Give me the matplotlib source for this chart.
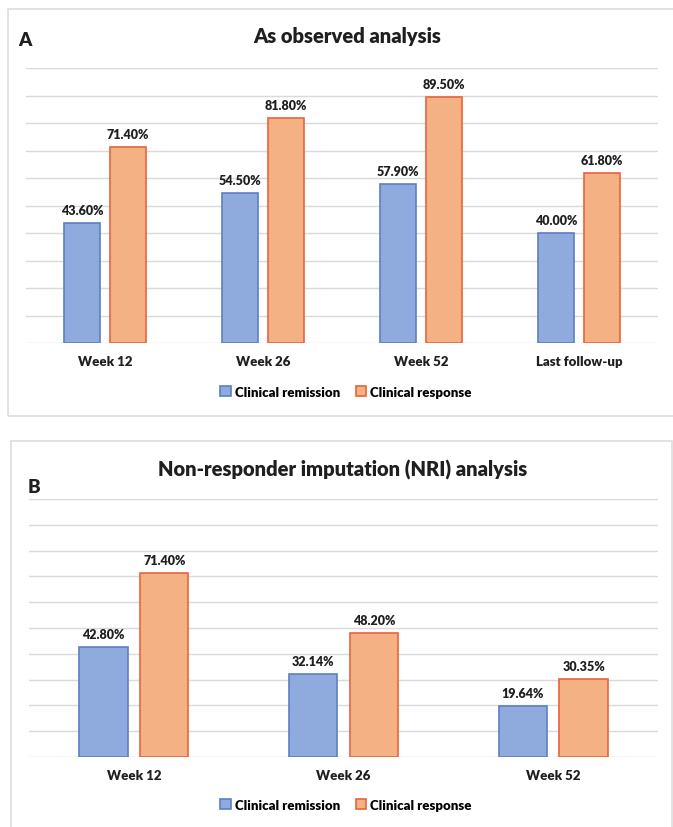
import matplotlib.pyplot as plt
from matplotlib.patches import Rectangle

plt.rcParams['font.family'] = ['Lato', 'DejaVu Sans']

# Panel A - as observed
weeks_a = ["Week 12", "Week 26", "Week 52", "Last follow-up"]
remission_a = [43.60, 54.50, 57.90, 40.00]
response_a = [71.40, 81.80, 89.50, 61.80]

# Panel B - NRI
weeks_b = ["Week 12", "Week 26", "Week 52"]
remission_b = [42.80, 32.14, 19.64]
response_b = [71.40, 48.20, 30.35]

blue_fill = "#8FAADC"
blue_edge = "#5B80C2"
orange_fill = "#F4B183"
orange_edge = "#E8643E"
grid_col = "#D9D9D9"
txt = "#1f1f1f"
wt = "heavy"

W, H = 673, 828
fig = plt.figure(figsize=(W / 100, H / 100), dpi=100)


def px_box(x0, y0, x1, y1):
    """pixel box (top-left origin) -> figure fraction rect"""
    return [x0 / W, 1 - y1 / H, (x1 - x0) / W, (y1 - y0) / H]


def draw_panel(rect, cats, rem, resp, fmt):
    ax = fig.add_axes(rect)
    x = list(range(len(cats)))
    off = 0.145
    w = 0.23
    b1 = ax.bar([i - off for i in x], rem, w, color=blue_fill, edgecolor=blue_edge,
                linewidth=1.2, label="Clinical remission", zorder=3)
    b2 = ax.bar([i + off for i in x], resp, w, color=orange_fill, edgecolor=orange_edge,
                linewidth=1.2, label="Clinical response", zorder=3)
    for bars, vals in ((b1, rem), (b2, resp)):
        for bar, v in zip(bars, vals):
            ax.annotate(fmt % v, (bar.get_x() + bar.get_width() / 2, v),
                        xytext=(0, 5), textcoords="offset points",
                        ha="center", va="bottom", fontsize=9, fontweight=wt,
                        color=txt)
    ax.set_xlim(-0.5, len(cats) - 0.5)
    ax.set_ylim(0, 100)
    ax.set_yticks(range(0, 101, 10))
    ax.yaxis.grid(True, color=grid_col, linewidth=1, zorder=0)
    ax.set_yticklabels([])
    ax.tick_params(axis="y", length=0)
    ax.set_xticks(x)
    ax.set_xticklabels(cats, fontsize=9.5, fontweight=wt, color=txt)
    ax.tick_params(axis="x", length=0, pad=9)
    for s in ax.spines.values():
        s.set_visible(False)
    return ax


# panel frames
fig.patches.append(Rectangle((8 / W, 1 - 417 / H), 700 / W, 407 / H, transform=fig.transFigure,
                             fill=False, edgecolor="#DDDDDD", linewidth=1.2))
fig.patches.append(Rectangle((11 / W, -0.05), 661 / W, (828 - 442) / H + 0.05,
                             transform=fig.transFigure, fill=False, edgecolor="#DDDDDD",
                             linewidth=1.2))

ax_a = draw_panel(px_box(26, 69, 658, 344), weeks_a, remission_a, response_a, "%.2f%%")
ax_b = draw_panel(px_box(29, 500, 658, 758), weeks_b, remission_b, response_b, "%.2f%%")

fig.text(347 / W, 1 - 37 / H, "As observed analysis", ha="center", va="center",
         fontsize=14.5, fontweight=wt, color=txt)
fig.text(18 / W, 1 - 40 / H, "A", ha="left", va="center", fontsize=13.5,
         fontweight=wt, color=txt)
fig.text(343 / W, 1 - 470 / H, "Non-responder imputation (NRI) analysis", ha="center",
         va="center", fontsize=14.5, fontweight=wt, color=txt)
fig.text(28 / W, 1 - 488 / H, "B", ha="left", va="center", fontsize=13.5,
         fontweight=wt, color=txt)

for ax, ly in ((ax_a, 393), (ax_b, 806)):
    ax.legend(loc="center", bbox_to_anchor=(346 / W, 1 - ly / H),
              bbox_transform=fig.transFigure, ncol=2, frameon=False,
              prop={"size": 9.5, "weight": wt}, handlelength=0.8, handleheight=0.8,
              handletextpad=0.3, columnspacing=1.2)

fig.savefig("out.png", dpi=100)
